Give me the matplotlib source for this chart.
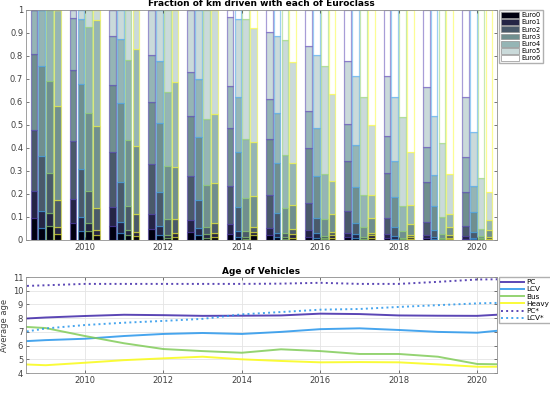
import numpy as np
import matplotlib
matplotlib.use('Agg')
import matplotlib.pyplot as plt
from matplotlib.patches import Patch
from matplotlib.colors import to_rgba

years = np.arange(2009, 2021)
euro_labels = ['Euro0', 'Euro1', 'Euro2', 'Euro3', 'Euro4', 'Euro5', 'Euro6']
vehicles = ['PC', 'LCV', 'Bus', 'Heavy']

# cumulative upper edge of Euro0..Euro5 for each year, Euro6 fills up to 1
pc_cum = [
  [0.097, 0.213, 0.478, 0.807, 1.000, 1.000],
  [0.072, 0.177, 0.430, 0.739, 0.964, 1.000],
  [0.061, 0.145, 0.381, 0.674, 0.887, 1.000],
  [0.047, 0.112, 0.329, 0.599, 0.804, 1.000],
  [0.033, 0.087, 0.278, 0.539, 0.729, 1.000],
  [0.026, 0.068, 0.235, 0.486, 0.670, 0.968],
  [0.020, 0.051, 0.196, 0.438, 0.612, 0.906],
  [0.015, 0.043, 0.159, 0.400, 0.561, 0.843],
  [0.012, 0.032, 0.127, 0.345, 0.504, 0.778],
  [0.008, 0.026, 0.097, 0.293, 0.452, 0.713],
  [0.008, 0.020, 0.077, 0.254, 0.406, 0.664],
  [0.005, 0.017, 0.061, 0.210, 0.362, 0.620],
]
lcv_cum = [
  [0.054, 0.125, 0.365, 0.755, 1.000, 1.000],
  [0.041, 0.099, 0.307, 0.677, 0.961, 1.000],
  [0.032, 0.080, 0.254, 0.597, 0.874, 1.000],
  [0.022, 0.061, 0.210, 0.507, 0.778, 1.000],
  [0.020, 0.054, 0.174, 0.449, 0.700, 1.000],
  [0.015, 0.040, 0.142, 0.384, 0.620, 0.960],
  [0.012, 0.032, 0.116, 0.333, 0.551, 0.887],
  [0.010, 0.029, 0.094, 0.278, 0.486, 0.804],
  [0.008, 0.025, 0.072, 0.232, 0.413, 0.713],
  [0.005, 0.017, 0.055, 0.186, 0.343, 0.623],
  [0.005, 0.015, 0.043, 0.148, 0.283, 0.539],
  [0.003, 0.010, 0.036, 0.120, 0.235, 0.471],
]
bus_cum = [
  [0.061, 0.117, 0.291, 0.691, 1.000, 1.000],
  [0.040, 0.075, 0.214, 0.551, 0.925, 1.000],
  [0.020, 0.043, 0.148, 0.435, 0.781, 1.000],
  [0.010, 0.022, 0.091, 0.323, 0.645, 1.000],
  [0.008, 0.025, 0.058, 0.239, 0.525, 1.000],
  [0.005, 0.012, 0.039, 0.181, 0.439, 0.959],
  [0.005, 0.012, 0.029, 0.141, 0.370, 0.870],
  [0.004, 0.008, 0.017, 0.091, 0.287, 0.754],
  [0.003, 0.005, 0.015, 0.058, 0.196, 0.623],
  [0.002, 0.004, 0.010, 0.040, 0.148, 0.533],
  [0.002, 0.004, 0.010, 0.026, 0.101, 0.420],
  [0.001, 0.003, 0.008, 0.017, 0.047, 0.271],
]
heavy_cum = [
  [0.025, 0.058, 0.174, 0.583, 1.000, 1.000],
  [0.022, 0.043, 0.138, 0.497, 0.954, 1.000],
  [0.017, 0.036, 0.113, 0.410, 0.830, 1.000],
  [0.015, 0.032, 0.091, 0.319, 0.687, 1.000],
  [0.015, 0.032, 0.072, 0.249, 0.548, 1.000],
  [0.020, 0.036, 0.058, 0.191, 0.428, 0.920],
  [0.010, 0.025, 0.047, 0.152, 0.333, 0.772],
  [0.010, 0.020, 0.036, 0.113, 0.257, 0.635],
  [0.010, 0.020, 0.029, 0.094, 0.196, 0.500],
  [0.005, 0.012, 0.020, 0.070, 0.152, 0.384],
  [0.004, 0.008, 0.020, 0.055, 0.113, 0.287],
  [0.003, 0.005, 0.015, 0.043, 0.087, 0.210],
]

# average age of vehicles
age_years = np.arange(2008, 2022)
age_pc = [7.90, 8.05, 8.16, 8.25, 8.22, 8.17, 8.18, 8.20, 8.33, 8.30, 8.20, 8.18, 8.17, 8.33]
age_lcv = [6.25, 6.40, 6.50, 6.70, 6.85, 6.92, 6.85, 7.00, 7.20, 7.26, 7.14, 7.00, 6.94, 7.22]
age_bus = [7.45, 7.28, 6.70, 6.17, 5.75, 5.60, 5.48, 5.73, 5.60, 5.39, 5.39, 5.19, 4.66, 4.62]
age_heavy = [4.68, 4.57, 4.75, 4.94, 5.07, 5.19, 5.00, 4.88, 4.78, 4.80, 4.78, 4.63, 4.46, 4.46]
age_pc_star = [10.30, 10.40, 10.50, 10.50, 10.50, 10.50, 10.50, 10.52, 10.58, 10.50, 10.50, 10.65, 10.82, 10.85]
age_lcv_star = [6.80, 7.25, 7.50, 7.67, 7.80, 7.95, 8.28, 8.45, 8.62, 8.67, 8.82, 8.95, 9.08, 9.15]

# matlab bone(7) and parula-ish colours
bone = ['#000010', '#252545', '#4a5a6a', '#708f8f', '#95b5b5', '#cadada', '#ffffff']
vcol = ['#3e26a8', '#2796eb', '#81cc59', '#f9fb15']
tick_col = '#404040'

fig = plt.figure(figsize=(5.5, 3.96), dpi=100)
ax1 = fig.add_axes([0.0473, 0.394, 0.856, 0.581])
ax2 = fig.add_axes([0.0473, 0.058, 0.856, 0.2424])

offsets = np.array([-1.5, -0.5, 0.5, 1.5]) * 0.2
bw = 0.17
for v, cum in enumerate([pc_cum, lcv_cum, bus_cum, heavy_cum]):
  c = np.hstack([np.zeros((len(years), 1)), np.array(cum), np.ones((len(years), 1))])
  for k in range(7):
    ax1.bar(years + offsets[v], c[:, k+1] - c[:, k], bw, bottom=c[:, k],
            color=bone[k], edgecolor=to_rgba(vcol[v], 0.45), linewidth=0.9)

ax1.set_xlim(2008.5, 2020.5)
ax1.set_ylim(0, 1)
ax1.set_yticks(np.arange(0, 1.01, 0.1))
ax1.set_yticklabels(['0', '0.1', '0.2', '0.3', '0.4', '0.5', '0.6', '0.7', '0.8', '0.9', '1'])
ax1.set_title('Fraction of km driven with each of Euroclass', fontsize=6.5,
              fontweight='bold', pad=2.5)
handles = [Patch(facecolor=bone[k], edgecolor='#909090', linewidth=0.5) for k in range(7)]
ax1.legend(handles, euro_labels, loc='upper left', bbox_to_anchor=(1.004, 1.0),
           fontsize=4.8, handlelength=2.8, handleheight=1.0, labelspacing=0.14,
           handletextpad=0.3, borderpad=0.3, fancybox=False, edgecolor='#b0b0b0',
           framealpha=1, borderaxespad=0)

styles = [(age_pc, vcol[0], '-'), (age_lcv, vcol[1], '-'), (age_bus, vcol[2], '-'),
          (age_heavy, vcol[3], '-'), (age_pc_star, vcol[0], ':'), (age_lcv_star, vcol[1], ':')]
names = ['PC', 'LCV', 'Bus', 'Heavy', 'PC*', 'LCV*']
for (vals, col, ls), nm in zip(styles, names):
  ax2.plot(age_years, vals, color=col, linestyle=ls, linewidth=1.4, label=nm, alpha=0.85)

ax2.set_xlim(2008.5, 2020.5)
ax2.set_ylim(4, 11)
ax2.set_yticks(np.arange(4, 12))
ax2.grid(True, color='#e4e4e4', linewidth=0.6)
ax2.set_axisbelow(True)
ax2.set_ylabel('Average age', fontsize=6, color=tick_col)
ax2.yaxis.set_label_coords(-0.036, 0.5)
ax2.set_title('Age of Vehicles', fontsize=6.5, fontweight='bold', pad=2.5)
ax2.legend(loc='upper left', bbox_to_anchor=(1.004, 1.0), fontsize=5.2,
           handlelength=3.2, labelspacing=0.16, handletextpad=0.3, borderpad=0.3,
           fancybox=False, edgecolor='#b0b0b0', framealpha=1, borderaxespad=0)

for ax in (ax1, ax2):
  ax.set_xticks(np.arange(2010, 2021, 2))
  ax.tick_params(direction='in', length=2.5, labelsize=6, colors=tick_col,
                 top=True, right=True, width=0.5, pad=2)
  for s in ax.spines.values():
    s.set_color('#909090')
    s.set_linewidth(0.6)

fig.savefig('out.png', dpi=100)
